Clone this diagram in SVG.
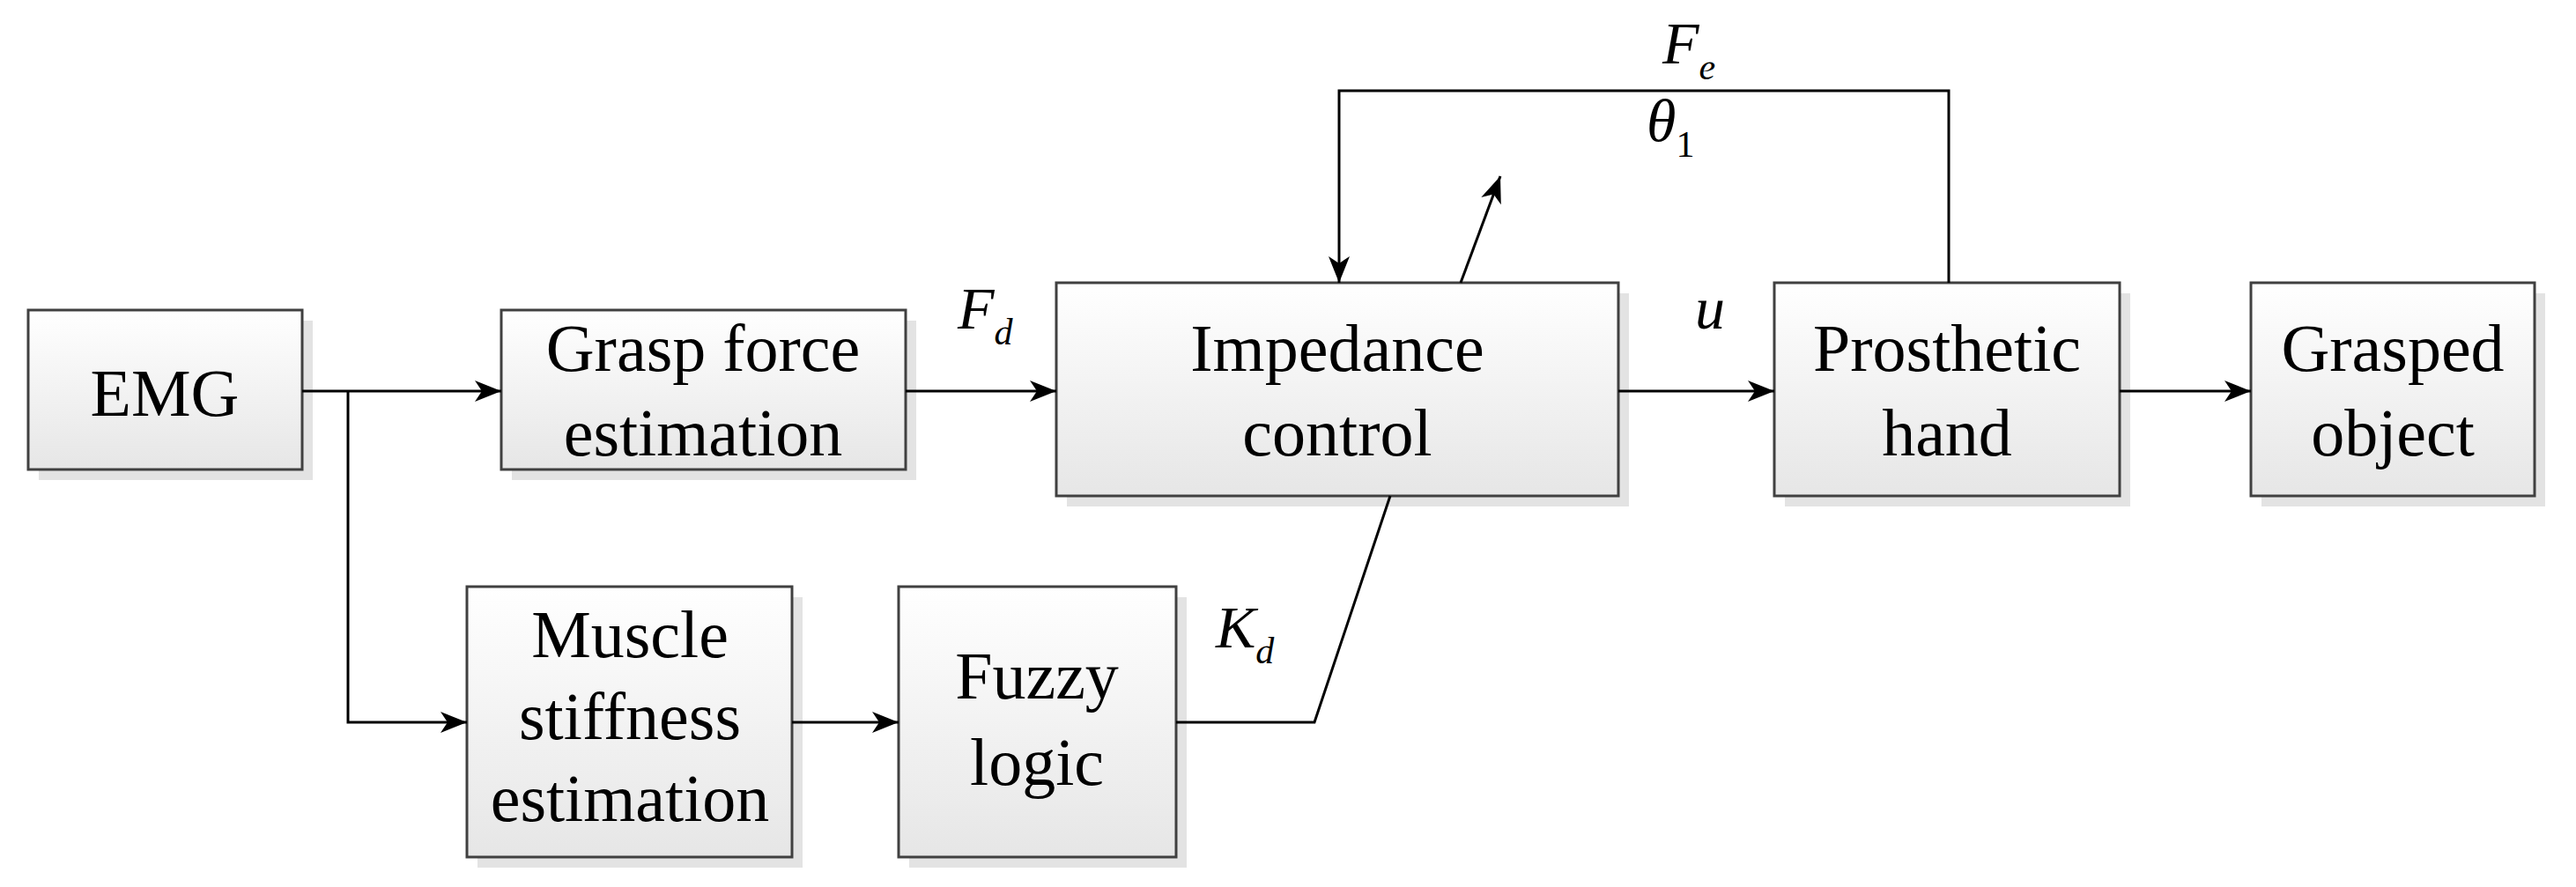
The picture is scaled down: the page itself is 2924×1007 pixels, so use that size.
<svg xmlns="http://www.w3.org/2000/svg" width="2924" height="1007" viewBox="0 0 2924 1007">
<defs>
<linearGradient id="g" x1="0" y1="0" x2="0" y2="1"><stop offset="0" stop-color="#ffffff"/><stop offset="1" stop-color="#e6e6e6"/></linearGradient>
<marker id="a" viewBox="0 0 30 24" refX="30" refY="12" markerWidth="30" markerHeight="24" markerUnits="userSpaceOnUse" orient="auto"><path d="M0,0 L30,12 L0,24 L8,12 Z" fill="#000"/></marker>
<style>
.b{fill:url(#g);stroke:#404040;stroke-width:3}
.s{fill:#e3e3e3}
.t{font-family:"Liberation Serif",serif;font-size:76px;text-anchor:middle;fill:#000}
.l{font-family:"Liberation Serif",serif;font-style:italic;font-size:68px;fill:#000}
.sub{font-size:42px}
.c{fill:none;stroke:#000;stroke-width:3}
</style>
</defs>
<rect width="2924" height="1007" fill="#fff"/>
<g id="EMG"><rect class="s" x="44" y="364" width="311" height="181"/><rect class="b" x="32" y="352" width="311" height="181"/><text class="t" x="187" y="472">EMG</text></g>
<g id="grasp"><rect class="s" x="581" y="364" width="459" height="181"/><rect class="b" x="569" y="352" width="459" height="181"/><text class="t" x="798" y="421">Grasp force</text><text class="t" x="798" y="517">estimation</text></g>
<g id="impedance"><rect class="s" x="1211" y="333" width="638" height="242"/><rect class="b" x="1199" y="321" width="638" height="242"/><text class="t" x="1518" y="421">Impedance</text><text class="t" x="1518" y="517">control</text></g>
<g id="prosthetic"><rect class="s" x="2026" y="333" width="392" height="242"/><rect class="b" x="2014" y="321" width="392" height="242"/><text class="t" x="2210" y="421">Prosthetic</text><text class="t" x="2210" y="517">hand</text></g>
<g id="grasped"><rect class="s" x="2567" y="333" width="322" height="242"/><rect class="b" x="2555" y="321" width="322" height="242"/><text class="t" x="2716" y="421">Grasped</text><text class="t" x="2716" y="517">object</text></g>
<g id="muscle"><rect class="s" x="542" y="678" width="369" height="307"/><rect class="b" x="530" y="666" width="369" height="307"/><text class="t" x="715" y="746">Muscle</text><text class="t" x="715" y="839">stiffness</text><text class="t" x="715" y="932">estimation</text></g>
<g id="fuzzy"><rect class="s" x="1032" y="678" width="315" height="307"/><rect class="b" x="1020" y="666" width="315" height="307"/><text class="t" x="1177" y="793">Fuzzy</text><text class="t" x="1177" y="891">logic</text></g>
<g id="connectors">
<path class="c" d="M343,444 H569" marker-end="url(#a)"/>
<path class="c" d="M395,444 V820 H530" marker-end="url(#a)"/>
<path class="c" d="M899,820 H1020" marker-end="url(#a)"/>
<path class="c" d="M1028,444 H1199" marker-end="url(#a)"/>
<path class="c" d="M1837,444 H2014" marker-end="url(#a)"/>
<path class="c" d="M2406,444 H2555" marker-end="url(#a)"/>
<path class="c" d="M2212,321 V103 H1520 V321" marker-end="url(#a)"/>
<path class="c" d="M1658,321 L1703,200" marker-end="url(#a)"/>
<path class="c" d="M1335,820 H1492 L1578,563"/>
</g>
<g id="labels">
<text class="l" x="1087" y="373">F<tspan class="sub" dy="18">d</tspan></text>
<text class="l" x="1887" y="72">F<tspan class="sub" dy="18">e</tspan></text>
<text class="l" x="1869" y="160">θ<tspan class="sub" font-style="normal" dy="18">1</tspan></text>
<text class="l" x="1924" y="373">u</text>
<text class="l" x="1380" y="735">K<tspan class="sub" dy="18">d</tspan></text>
</g>
</svg>
